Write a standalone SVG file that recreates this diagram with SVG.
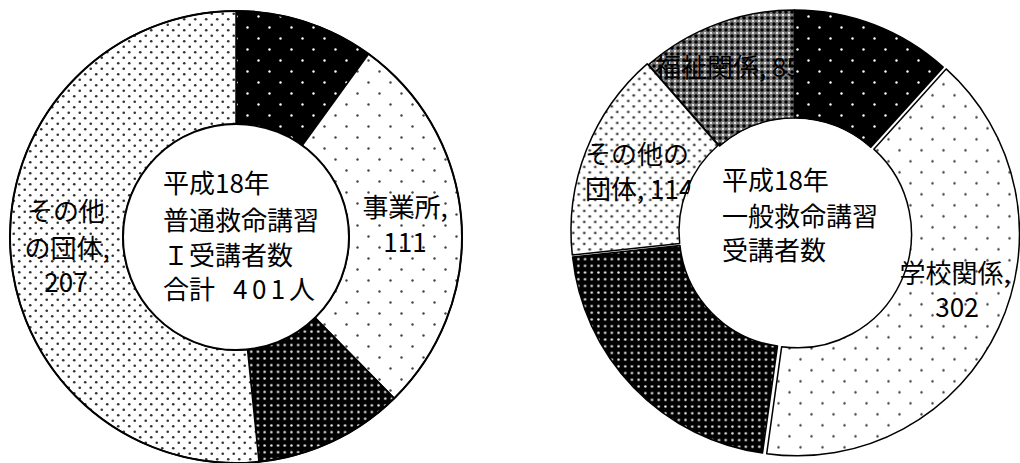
<svg xmlns="http://www.w3.org/2000/svg" width="1020" height="463" viewBox="0 0 1020 463">
<style>
.t{font-family:"Noto Sans CJK JP","Noto Sans",sans-serif;font-size:26px;fill:#000}
.m{text-anchor:middle}
.sl{stroke:#000;stroke-width:1.5;stroke-linejoin:round}
</style>
<defs>
<pattern id="pBlackSparse" patternUnits="userSpaceOnUse" width="22" height="22">
<rect width="22" height="22" fill="#000"/>
<circle cx="5.5" cy="5.5" r="1.2" fill="#fff"/>
<circle cx="16.5" cy="16.5" r="1.2" fill="#fff"/>
</pattern>
<pattern id="pWhiteSparse" patternUnits="userSpaceOnUse" width="22" height="22">
<rect width="22" height="22" fill="#fff"/>
<circle cx="5.5" cy="5.5" r="1.2" fill="#444"/>
<circle cx="16.5" cy="16.5" r="1.2" fill="#444"/>
</pattern>
<pattern id="pBlackDense" patternUnits="userSpaceOnUse" width="6.7" height="6.7">
<rect width="6.7" height="6.7" fill="#000"/>
<circle cx="3.35" cy="3.35" r="1.25" fill="#eee"/>
</pattern>
<pattern id="pWhiteDense" patternUnits="userSpaceOnUse" width="11" height="11">
<rect width="11" height="11" fill="#fff"/>
<circle cx="2.75" cy="2.75" r="1.3" fill="#333"/>
<circle cx="8.25" cy="8.25" r="1.3" fill="#333"/>
</pattern>
<pattern id="pGray" patternUnits="userSpaceOnUse" width="6" height="6">
<rect width="6" height="6" fill="#7a7a7a"/>
<circle cx="0" cy="0" r="1.8" fill="#000"/>
<circle cx="6" cy="0" r="1.8" fill="#000"/>
<circle cx="0" cy="6" r="1.8" fill="#000"/>
<circle cx="6" cy="6" r="1.8" fill="#000"/>
<circle cx="3" cy="3" r="1.1" fill="#fff"/>
</pattern>
</defs>
<rect width="1020" height="463" fill="#fff"/>

<!-- Left donut -->
<g id="left-chart">
<g id="left-slice-black">
<path class="sl" fill="url(#pBlackSparse)" d="M236,11 A226,226 0 0 1 368.55,53.96 L302.27,145.48 A113,113 0 0 0 236,124 Z"/>
</g>
<g id="left-slice-jigyosho">
<path class="sl" fill="url(#pWhiteSparse)" d="M368.55,53.96 A226,226 0 0 1 394.25,398.36 L315.12,317.68 A113,113 0 0 0 302.27,145.48 Z"/>
<text class="t m" x="405" y="217">事業所,</text>
<text class="t m" x="405" y="252">111</text>
</g>
<g id="left-slice-dark">
<path class="sl" fill="url(#pBlackDense)" d="M394.25,398.36 A226,226 0 0 1 258.98,461.83 L247.49,349.41 A113,113 0 0 0 315.12,317.68 Z"/>
</g>
<g id="left-slice-other">
<path class="sl" fill="url(#pWhiteDense)" d="M258.98,461.83 A226,226 0 1 1 236,11 L236,124 A113,113 0 1 0 247.49,349.41 Z"/>
<text class="t m" x="66" y="220.5">その他</text>
<text class="t m" x="67" y="258">の団体,</text>
<text class="t m" x="66" y="292">207</text>
</g>
<circle cx="236" cy="237" r="226" fill="none" stroke="#000" stroke-width="2"/>
<g id="left-center">
<circle cx="236" cy="237" r="113" fill="#fff" stroke="#000" stroke-width="2"/>
<text class="t" x="163" y="193">平成18年</text>
<text class="t" x="163" y="230">普通救命講習</text>
<text class="t" x="163" y="265">Ｉ受講者数</text>
<text class="t" x="163" y="299">合計<tspan x="233" letter-spacing="4.5">401</tspan><tspan x="289">人</tspan></text>
</g>
</g>

<!-- Right donut -->
<g id="right-chart">
<g id="right-slice-fukushi">
<path class="sl" fill="url(#pGray)" d="M648.64,64.64 A222,222 0 0 1 794.5,10 L794.5,118 A114,114 0 0 0 719.6,146.06 Z"/>
</g>
<g id="right-slice-other">
<path class="sl" fill="url(#pWhiteDense)" transform="translate(-1.5,-0.8)" d="M573.78,255.83 A222,222 0 0 1 648.64,64.64 L719.6,146.06 A114,114 0 0 0 681.16,244.23 Z"/>
</g>
<g id="right-slice-dark">
<path class="sl" fill="url(#pBlackDense)" transform="translate(-1.2,1.2)" d="M763.71,451.85 A222,222 0 0 1 573.78,255.83 L681.16,244.23 A114,114 0 0 0 778.69,344.9 Z"/>
</g>
<g id="right-slice-school">
<path class="sl" fill="url(#pWhiteSparse)" transform="translate(3,1.8)" d="M943.16,67.13 A222,222 0 0 1 763.71,451.85 L778.69,344.9 A114,114 0 0 0 870.84,147.34 Z"/>
</g>
<g id="right-label-fukushi">
<text class="t" x="655" y="77">福祉関係, 85</text>
</g>
<g id="right-slice-black">
<path class="sl" fill="url(#pBlackSparse)" d="M794.5,10 A222,222 0 0 1 943.16,67.13 L870.84,147.34 A114,114 0 0 0 794.5,118 Z"/>
</g>
<g id="right-label-other">
<text class="t" x="585" y="164">その他の</text>
<text class="t" x="585" y="199">団体, 114</text>
</g>
<g id="right-center">
<circle cx="794.5" cy="232" r="113" fill="#fff"/>
<text class="t" x="722" y="190">平成18年</text>
<text class="t" x="722" y="226">一般救命講習</text>
<text class="t" x="722" y="260">受講者数</text>
</g>
<g id="right-label-school">
<text class="t m" x="955" y="283">学校関係,</text>
<text class="t m" x="957" y="317">302</text>
</g>
</g>
</svg>
